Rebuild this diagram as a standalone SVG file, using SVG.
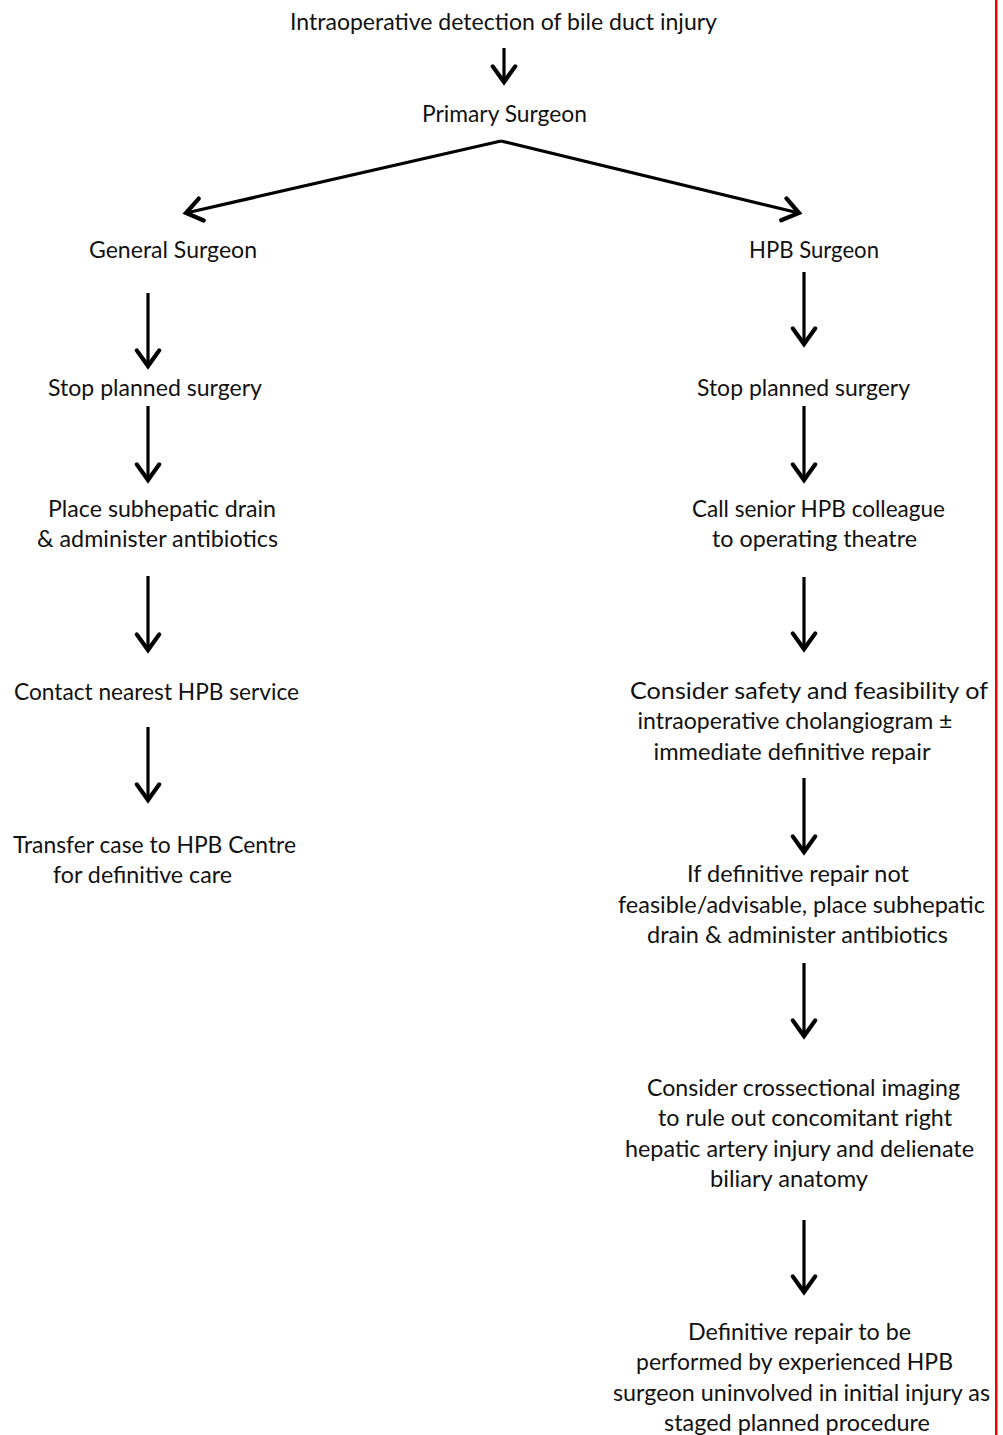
<svg xmlns="http://www.w3.org/2000/svg" width="1003" height="1435" viewBox="0 0 1003 1435">
<style>
text{font-family:Lato,"Open Sans","Liberation Sans",sans-serif;font-size:22.5px;fill:#111;text-anchor:middle}
.c{stroke:#000;stroke-width:3.2;fill:none;stroke-linecap:butt}
</style>
<defs>
<marker id="ah" markerUnits="userSpaceOnUse" orient="auto" refX="0" refY="0" markerWidth="30" markerHeight="30" viewBox="-16 -12 20 24" overflow="visible">
<path d="M-12.5,-9 L0,0 L-12.5,9" fill="none" stroke="#000" stroke-width="3.4" stroke-linecap="round" stroke-linejoin="miter"/>
</marker>
</defs>
<rect width="1003" height="1435" fill="#fff"/>
<rect x="995" y="0" width="2.5" height="1435" fill="#ff0000"/>
<g id="connectors">
<line class="c" x1="504" y1="48" x2="504" y2="82" marker-end="url(#ah)"/>
<line class="c" x1="501" y1="141" x2="186" y2="213" marker-end="url(#ah)"/>
<line class="c" x1="501" y1="141" x2="799" y2="213" marker-end="url(#ah)"/>
<line class="c" x1="148" y1="293" x2="148" y2="366" marker-end="url(#ah)"/>
<line class="c" x1="148" y1="406" x2="148" y2="480" marker-end="url(#ah)"/>
<line class="c" x1="148" y1="576" x2="148" y2="650" marker-end="url(#ah)"/>
<line class="c" x1="148" y1="727" x2="148" y2="800" marker-end="url(#ah)"/>
<line class="c" x1="804" y1="272" x2="804" y2="344" marker-end="url(#ah)"/>
<line class="c" x1="804" y1="406" x2="804" y2="480" marker-end="url(#ah)"/>
<line class="c" x1="804" y1="577" x2="804" y2="649" marker-end="url(#ah)"/>
<line class="c" x1="804" y1="778" x2="804" y2="852" marker-end="url(#ah)"/>
<line class="c" x1="804" y1="963" x2="804" y2="1036" marker-end="url(#ah)"/>
<line class="c" x1="804" y1="1220" x2="804" y2="1292" marker-end="url(#ah)"/>
</g>
<g id="n-detection"><text x="503.5" y="30" textLength="427" lengthAdjust="spacingAndGlyphs">Intraoperative detection of bile duct injury</text></g>
<g id="n-primary"><text x="504.5" y="122" textLength="165" lengthAdjust="spacingAndGlyphs">Primary Surgeon</text></g>
<g id="n-general"><text x="173" y="258" textLength="168" lengthAdjust="spacingAndGlyphs">General Surgeon</text></g>
<g id="n-hpb"><text x="814" y="258" textLength="130" lengthAdjust="spacingAndGlyphs">HPB Surgeon</text></g>
<g id="n-stop-left"><text x="155" y="396" textLength="214" lengthAdjust="spacingAndGlyphs">Stop planned surgery</text></g>
<g id="n-stop-right"><text x="803.5" y="396" textLength="213" lengthAdjust="spacingAndGlyphs">Stop planned surgery</text></g>
<g id="n-drain-left">
<text x="162" y="517" textLength="228" lengthAdjust="spacingAndGlyphs">Place subhepatic drain</text>
<text x="157.5" y="547" textLength="241" lengthAdjust="spacingAndGlyphs">&amp; administer antibiotics</text>
</g>
<g id="n-call-senior">
<text x="818.5" y="517" textLength="253" lengthAdjust="spacingAndGlyphs">Call senior HPB colleague</text>
<text x="814.5" y="547" textLength="205" lengthAdjust="spacingAndGlyphs">to operating theatre</text>
</g>
<g id="n-contact"><text x="156.5" y="700" textLength="285" lengthAdjust="spacingAndGlyphs">Contact nearest HPB service</text></g>
<g id="n-consider-safety">
<text x="809" y="699" textLength="358" lengthAdjust="spacingAndGlyphs">Consider safety and feasibility of</text>
<text x="795" y="729" textLength="315" lengthAdjust="spacingAndGlyphs">intraoperative cholangiogram ±</text>
<text x="792" y="760" textLength="277" lengthAdjust="spacingAndGlyphs">immediate definitive repair</text>
</g>
<g id="n-transfer">
<text x="154.5" y="853" textLength="283" lengthAdjust="spacingAndGlyphs">Transfer case to HPB Centre</text>
<text x="142.5" y="883" textLength="179" lengthAdjust="spacingAndGlyphs">for definitive care</text>
</g>
<g id="n-if-not-feasible">
<text x="798" y="882" textLength="222" lengthAdjust="spacingAndGlyphs">If definitive repair not</text>
<text x="801.5" y="913" textLength="367" lengthAdjust="spacingAndGlyphs">feasible/advisable, place subhepatic</text>
<text x="797.5" y="943" textLength="301" lengthAdjust="spacingAndGlyphs">drain &amp; administer antibiotics</text>
</g>
<g id="n-imaging">
<text x="803.5" y="1096" textLength="313" lengthAdjust="spacingAndGlyphs">Consider crossectional imaging</text>
<text x="805" y="1126" textLength="294" lengthAdjust="spacingAndGlyphs">to rule out concomitant right</text>
<text x="799.5" y="1157" textLength="349" lengthAdjust="spacingAndGlyphs">hepatic artery injury and delienate</text>
<text x="789" y="1187" textLength="158" lengthAdjust="spacingAndGlyphs">biliary anatomy</text>
</g>
<g id="n-definitive">
<text x="799.5" y="1340" textLength="223" lengthAdjust="spacingAndGlyphs">Definitive repair to be</text>
<text x="794.5" y="1370" textLength="317" lengthAdjust="spacingAndGlyphs">performed by experienced HPB</text>
<text x="801.5" y="1401" textLength="377" lengthAdjust="spacingAndGlyphs">surgeon uninvolved in initial injury as</text>
<text x="797" y="1431" textLength="266" lengthAdjust="spacingAndGlyphs">staged planned procedure</text>
</g>
</svg>
